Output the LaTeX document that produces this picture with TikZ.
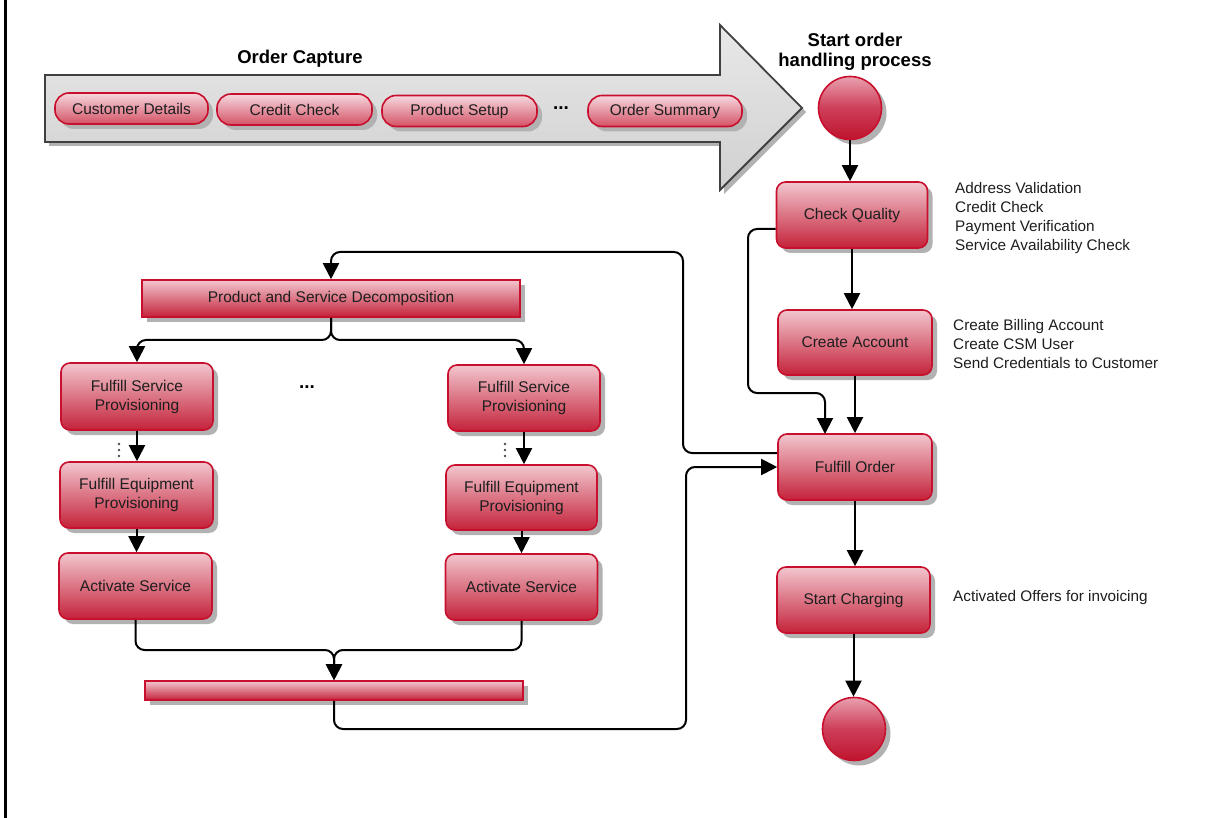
\documentclass[tikz,border=0pt]{standalone}
\usepackage{fontspec}
\setmainfont{Liberation Sans}
\usetikzlibrary{shadows,arrows.meta,calc}
\definecolor{redline}{RGB}{200,16,46}
\definecolor{boxtop}{RGB}{242,198,206}
\definecolor{boxbot}{RGB}{196,34,58}
\definecolor{pilltop}{RGB}{245,216,222}
\definecolor{pillbot}{RGB}{212,82,102}
\definecolor{circtop}{RGB}{232,160,175}
\definecolor{circmid}{RGB}{206,62,88}
\definecolor{circbot}{RGB}{190,20,46}
\definecolor{shadowgray}{RGB}{178,178,178}
\definecolor{txt}{RGB}{30,30,30}
\definecolor{arrowedge}{RGB}{64,64,64}
\definecolor{arrowtop}{RGB}{232,232,232}
\definecolor{arrowbot}{RGB}{208,208,208}
\tikzset{
  shd/.style={drop shadow={shadow xshift=5pt, shadow yshift=-5pt, opacity=1, fill=shadowgray}},
  box/.style={draw=redline, line width=1.6pt, rounded corners=9pt, top color=boxtop, bottom color=boxbot,
    shd, minimum width=152pt, minimum height=66pt, inner sep=0pt, align=center,
    font=\fontsize{15.5}{19}\selectfont, text=txt},
  bar/.style={box, rounded corners=0pt},
  pill/.style={box, rounded corners=14pt, top color=pilltop, bottom color=pillbot,
    minimum height=31pt},
  circ/.style={circle, draw=redline, line width=1.6pt, minimum size=63pt, inner sep=0pt,
    top color=circtop, bottom color=circbot, middle color=circmid, shd},
  arr/.style={line width=2pt, -{Triangle[length=16pt,width=16pt]}, rounded corners=9pt},
  side/.style={anchor=west, align=left, inner sep=0pt, font=\fontsize{15.3}{19}\selectfont, text=txt},
  ttl/.style={align=center, inner sep=0pt, font=\bfseries\fontsize{18.5}{20}\selectfont, text=black},
  dots/.style={inner sep=0pt, font=\bfseries\fontsize{19}{20}\selectfont, text=black},
  vdot/.style={circle, fill=black!70, inner sep=0pt, minimum size=2.6pt}
}
\begin{document}
\begin{tikzpicture}[x=1pt,y=-1pt]
\useasboundingbox (0,0) rectangle (1232,818);
\fill[white] (0,0) rectangle (1232,818);
\draw[line width=3pt] (5,0) -- (5,818);

% Order capture arrow
\path[draw=arrowedge, line width=1.8pt, top color=arrowtop, bottom color=arrowbot,
  drop shadow={shadow xshift=4pt, shadow yshift=-4pt, opacity=1, fill=shadowgray}]
  (45,75) -- (720,75) -- (720,25) -- (802,108) -- (720,190) -- (720,142) -- (45,142) -- cycle;
\node[ttl] (octitle) at (300,59) {Order Capture};
\node[pill, minimum width=153pt] (cd) at (131.5,108.5) {Customer Details};
\node[pill, minimum width=155pt] (cc) at (294.5,109.5) {Credit Check};
\node[pill, minimum width=155pt] (ps) at (459.5,111) {Product Setup};
\node[dots] (odots) at (561,108) {...};
\node[pill, minimum width=154pt] (os) at (665,111) {Order Summary};

% right column
\node[ttl] (sttitle) at (855,52) {Start order\\handling process};
\node[circ] (start) at (850,108) {};
\node[box, minimum width=151pt] (cq) at (852,215) {Check Quality};
\node[box, minimum width=154pt, minimum height=65pt] (ca) at (855,342.5) {Create Account};
\node[box, minimum width=154pt] (fo) at (855,467) {Fulfill Order};
\node[box, minimum width=153pt] (sc) at (853.5,600) {Start Charging};
\node[circ] (end) at (854,729) {};

\node[side] (cqnote) at (955,218.5) {Address Validation\\Credit Check\\Payment Verification\\Service Availability Check};
\node[side] (canote) at (953,344) {Create Billing Account\\Create CSM User\\Send Credentials to Customer};
\node[side] (scnote) at (953,598) {Activated Offers for invoicing};

% left part
\node[bar, minimum width=378pt, minimum height=37pt] (psd) at (331,298.5) {Product and Service Decomposition};
\node[box, minimum height=67pt] (fsp1) at (137,396.5) {Fulfill Service\\Provisioning};
\node[box, minimum width=153pt] (fep1) at (136.5,495) {Fulfill Equipment\\Provisioning};
\node[box, minimum width=153pt] (as1) at (135.5,586) {Activate Service};
\node[box] (fsp2) at (524,398) {Fulfill Service\\Provisioning};
\node[box, minimum width=151pt, minimum height=65pt] (fep2) at (521.5,497.5) {Fulfill Equipment\\Provisioning};
\node[box] (as2) at (521.5,587) {Activate Service};
\node[dots] (mdots) at (307,387) {...};
\node[bar, minimum width=378pt, minimum height=19pt] (join) at (334,690.5) {};

\node[vdot] (d1a) at (119,444) {};
\node[vdot] (d1b) at (119,450) {};
\node[vdot] (d1c) at (119,456) {};
\node[vdot] (d2a) at (505,444) {};
\node[vdot] (d2b) at (505,450) {};
\node[vdot] (d2c) at (505,456) {};

% coordinates
\coordinate (fk) at (331,340);
\coordinate (mg) at (334,650);
\coordinate (b2) at (686,729);
\coordinate (t1) at (683,252);
\coordinate (l1) at (748,393);
\coordinate (l2) at (825,434);

% connectors right column
\draw[arr] (start) -- (start |- cq.north);
\draw[arr] (cq.south) -- (cq.south |- ca.north);
\draw[arr] (ca) -- (fo);
\draw[arr] (fo) -- (fo |- sc.north);
\draw[arr] (sc) -- (sc |- end.north);
\draw[arr] ($(cq.west)+(0,14)$) -| (l1) -| (l2);

% loop to decomposition
\draw[arr] ($(fo.west)+(0,-14)$) -| (t1) -| (psd.north);
\draw[arr] (psd.south) -- (fk) -| (fsp1.north);
\draw[arr] (psd.south) -- (fk) -| (fsp2.north);
\draw[arr] (fsp1) -- (fsp1 |- fep1.north);
\draw[arr] (fep1) -- (fep1 |- as1.north);
\draw[arr] (fsp2) -- (fsp2 |- fep2.north);
\draw[arr] (fep2) -- (fep2 |- as2.north);
\draw[arr] (as1.south) |- (mg) -- (join.north);
\draw[arr] (as2.south) |- (mg) -- (join.north);
\draw[arr] (join.south) |- (b2) |- (fo.west);
\end{tikzpicture}
\end{document}
